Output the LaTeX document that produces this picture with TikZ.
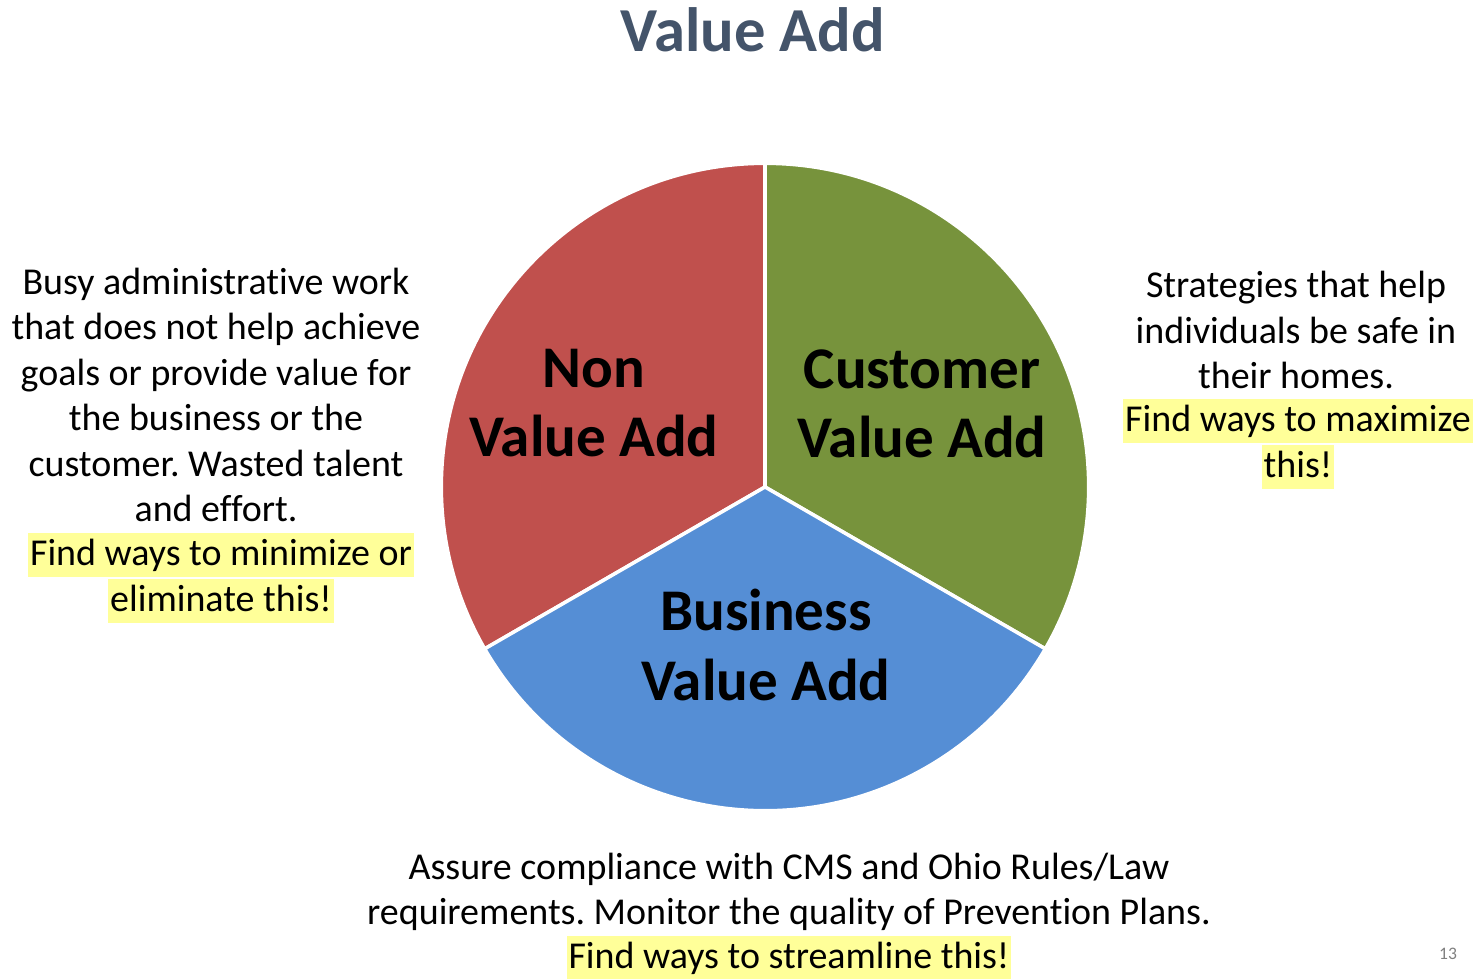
\documentclass[tikz,border=0pt]{standalone}
\usepackage{fontspec}
\setmainfont{Carlito}[Ligatures=NoCommon]
\frenchspacing
\usetikzlibrary{positioning}

\definecolor{nonred}{HTML}{C0504D}
\definecolor{custgreen}{HTML}{77933C}
\definecolor{busblue}{HTML}{558ED5}
\definecolor{titleslate}{HTML}{44546A}
\definecolor{hlyellow}{HTML}{FFFF99}

\tikzset{
  slice/.style={draw=white, line width=1pt},
  note/.style={font=\fontsize{10.8}{12.9}\selectfont, align=center, inner sep=0pt},
  hl/.style={note, fill=hlyellow, inner xsep=0.02cm, text height=0.33cm, text depth=0.115cm},
  slicelabel/.style={font=\fontsize{16.8}{19.8}\selectfont\bfseries, align=center, inner sep=0pt},
}

\begin{document}
\begin{tikzpicture}[x=0.01cm, y=0.01cm]
		\useasboundingbox (0,0) rectangle (1475,979);
		\coordinate (c) at (765,492);
		% pie
		\filldraw [slice, fill=nonred] (c) -- ++(90:3.235cm) arc (90:210:3.235cm) -- cycle;
		\filldraw [slice, fill=custgreen] (c) -- ++(90:3.235cm) arc (90:-30:3.235cm) -- cycle;
		\filldraw [slice, fill=busblue] (c) -- ++(210:3.235cm) arc (210:330:3.235cm) -- cycle;
		\node [slicelabel] (non) at (594,576) {Non\\Value Add};
		\node [slicelabel] (cust) at (922,575) {Customer\\Value Add};
		\node [slicelabel] (bus) at (766,334) {Business\\Value Add};
		% title
		\node [font=\fontsize{17.8}{21}\selectfont\bfseries, text=titleslate, inner sep=0pt] (title) at (753,949) {Value Add};
		% left
		\node [note] (lefttxt) at (216,584) {Busy administrative work\\that does not help achieve\\goals or provide value for\\the business or the\\customer. Wasted talent\\and effort.};
		\node [hl] (lefthl1) at (221,424) {Find ways to minimize or};
		\node [hl, below=0pt of lefthl1] (lefthl2) {eliminate this!};
		% right
		\node [note] (righttxt) at (1296,649) {Strategies that help\\individuals be safe in\\their homes.};
		\node [hl] (righthl1) at (1298,558) {Find ways to maximize};
		\node [hl, below=0pt of righthl1] (righthl2) {this!};
		% bottom
		\node [note] (bottxt) at (789,087) {Assure compliance with CMS and Ohio Rules/Law\\requirements. Monitor the quality of Prevention Plans.};
		\node [hl] (bothl) at (789,21) {Find ways to streamline this!};
		\node [font=\fontsize{5}{6}\selectfont, text=gray, inner sep=0pt] (pagenum) at (1448,25) {13};
\end{tikzpicture}
\end{document}
